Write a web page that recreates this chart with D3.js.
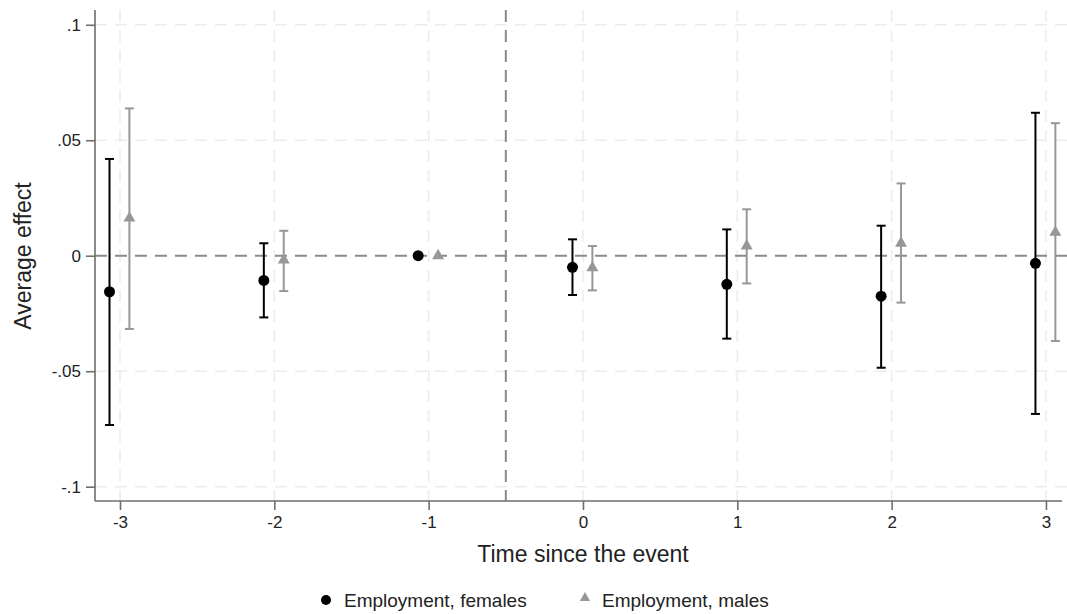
<!DOCTYPE html>
<html>
<head>
<meta charset="utf-8">
<script src="https://cdn.jsdelivr.net/npm/d3@7"></script>
<style>
  html, body { margin: 0; padding: 0; background: #fff; }
  svg { display: block; font-family: "Liberation Sans", Arial, sans-serif; }
</style>
</head>
<body>
<svg id="chart" width="1067" height="614"></svg>
<script>
// ---- data ----
const periods = [-3, -2, -1, 0, 1, 2, 3];
const femaleEst = [-0.0156, -0.0107, 0, -0.0050, -0.0124, -0.0175, -0.0033];
const femaleLo  = [-0.0733, -0.0267, null, -0.0170, -0.0359, -0.0485, -0.0685];
const femaleHi  = [0.0419, 0.0054, null, 0.0071, 0.0114, 0.0130, 0.0619];
const maleEst   = [0.0163, -0.0019, 0, -0.0052, 0.0042, 0.0054, 0.0101];
const maleLo    = [-0.0317, -0.0153, null, -0.0150, -0.0120, -0.0203, -0.0369];
const maleHi    = [0.0638, 0.0108, null, 0.0042, 0.0201, 0.0313, 0.0574];
const yTicks = [0.1, 0.05, 0, -0.05, -0.1];
const yTickLabels = [".1", ".05", "0", "-.05", "-.1"];
const xTicks = [-3, -2, -1, 0, 1, 2, 3];
const eventLine = -0.5;
const seriesNames = ["Employment, females", "Employment, males"];

(function () {
// ---- layout ----
const svg = d3.select("#chart");
const pLeft = 95, pRight = 1062, pTop = 10, pBottom = 501;
const x = d3.scaleLinear().domain([-3.162, 3.104]).range([pLeft, pRight]);
const y = d3.scaleLinear().domain([-0.1062, 0.1064]).range([pBottom, pTop]);
const offF = -0.068, offM = 0.061;
const colF = "#000000", colM = "#979797";

// gridlines
const grid = svg.append("g");
grid.selectAll("line.gy").data(yTicks.filter(v => v !== 0)).enter().append("line")
  .attr("x1", pLeft).attr("x2", 1067).attr("y1", d => y(d)).attr("y2", d => y(d))
  .attr("stroke", "#ececec").attr("stroke-width", 1.5).attr("stroke-dasharray", "12,8");
grid.selectAll("line.gx").data(xTicks).enter().append("line")
  .attr("x1", d => x(d)).attr("x2", d => x(d)).attr("y1", pTop).attr("y2", pBottom)
  .attr("stroke", "#ececec").attr("stroke-width", 1.5).attr("stroke-dasharray", "12,8");

// reference lines
svg.append("line").attr("x1", pLeft).attr("x2", 1067).attr("y1", y(0)).attr("y2", y(0))
  .attr("stroke", "#8a8a8a").attr("stroke-width", 2).attr("stroke-dasharray", "12,8");
svg.append("line").attr("x1", x(eventLine)).attr("x2", x(eventLine)).attr("y1", pTop).attr("y2", pBottom)
  .attr("stroke", "#8a8a8a").attr("stroke-width", 2).attr("stroke-dasharray", "12,8");

// axes
const yAxis = d3.axisLeft(y).tickValues(yTicks).tickFormat((d, i) => yTickLabels[i]).tickSize(9).tickPadding(5);
const gy = svg.append("g").attr("transform", `translate(${pLeft},0)`).call(yAxis);
const xAxis = d3.axisBottom(x).tickValues(xTicks).tickFormat(d3.format("d")).tickSize(9).tickPadding(6);
const gx = svg.append("g").attr("transform", `translate(0,${pBottom})`).call(xAxis);
[gy, gx].forEach(g => {
  g.select(".domain").attr("stroke", "#6e6e6e").attr("stroke-width", 1.6);
  g.selectAll(".tick line").attr("stroke", "#6e6e6e").attr("stroke-width", 1.6);
  g.selectAll(".tick text").attr("fill", "#222").style("font-size", "17px")
    .style("font-family", "'Liberation Sans', Arial, sans-serif");
});
gy.select(".domain").attr("d", `M0,${pTop}V${pBottom}`);
gx.select(".domain").attr("d", `M${pLeft},0H${pRight}`);
gx.selectAll(".tick text").text(d => d < 0 ? "-" + Math.abs(d) : d);

// error bars + points
function drawSeries(est, lo, hi, off, col, shape) {
  const g = svg.append("g");
  const cap = 4.5;
  periods.forEach((p, i) => {
    const cx = x(p + off);
    if (lo[i] !== null && hi[i] !== null) {
      g.append("line").attr("x1", cx).attr("x2", cx).attr("y1", y(lo[i])).attr("y2", y(hi[i]))
        .attr("stroke", col).attr("stroke-width", 2);
      [lo[i], hi[i]].forEach(v => {
        g.append("line").attr("x1", cx - cap).attr("x2", cx + cap).attr("y1", y(v)).attr("y2", y(v))
          .attr("stroke", col).attr("stroke-width", 2);
      });
    }
    if (shape === "circle") {
      g.append("circle").attr("cx", cx).attr("cy", y(est[i])).attr("r", 5.5).attr("fill", col);
    } else {
      g.append("path").attr("d", d3.symbol().type(d3.symbolTriangle).size(62)())
        .attr("transform", `translate(${cx},${y(est[i])})`).attr("fill", col);
    }
  });
}
drawSeries(femaleEst, femaleLo, femaleHi, offF, colF, "circle");
drawSeries(maleEst, maleLo, maleHi, offM, colM, "triangle");

// axis titles
svg.append("text").attr("x", 583).attr("y", 562).attr("text-anchor", "middle")
  .style("font-size", "23px").attr("fill", "#222").text("Time since the event");
svg.append("text").attr("transform", "translate(31,256) rotate(-90)").attr("text-anchor", "middle")
  .style("font-size", "23px").attr("fill", "#222").text("Average effect");

// legend
const leg = svg.append("g");
leg.append("circle").attr("cx", 326).attr("cy", 600).attr("r", 5).attr("fill", colF);
leg.append("text").attr("x", 344).attr("y", 607).style("font-size", "19px").attr("fill", "#222").text(seriesNames[0]);
leg.append("path").attr("d", d3.symbol().type(d3.symbolTriangle).size(45)())
  .attr("transform", "translate(585,598)").attr("fill", colM);
leg.append("text").attr("x", 602).attr("y", 607).style("font-size", "19px").attr("fill", "#222").text(seriesNames[1]);
})();
</script>
</body>
</html>
